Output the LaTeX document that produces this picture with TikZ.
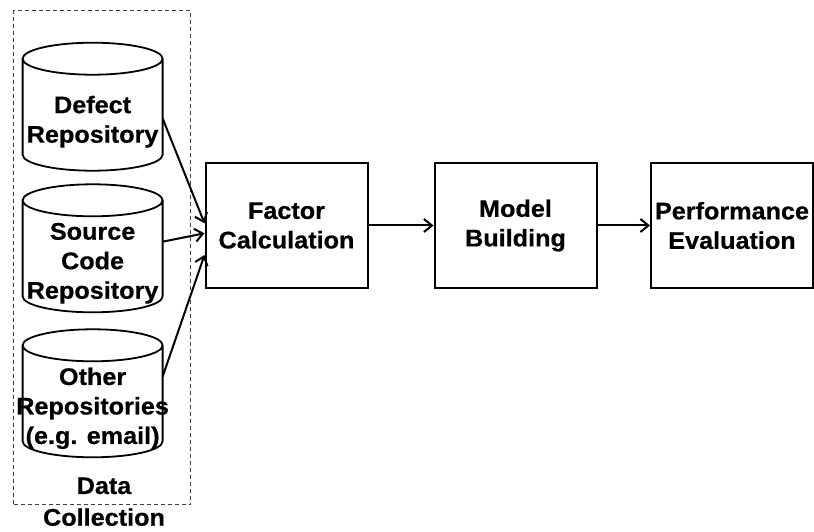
\documentclass[tikz,border=0pt]{standalone}
\usepackage{fontspec}
\setmainfont{Liberation Sans}[FakeStretch=1.05, BoldFeatures={FakeBold=0.6}]
\usetikzlibrary{arrows.meta}

\begin{document}
\begin{tikzpicture}[x=1pt, y=1pt, font=\bfseries\fontsize{24}{29.5}\selectfont,
    repo/.style={minimum width=140pt, align=center, inner sep=0pt},
    stage/.style={draw, line width=2pt, minimum width=162pt, minimum height=125pt, align=center},
    flow/.style={-{Straight Barb[length=8pt,width=13pt]}, line width=2pt}]
            \useasboundingbox (0,0) rectangle (814,531);
            \node[draw, dash pattern=on 4pt off 3pt, gray!50!black, line width=1pt, inner sep=0pt, minimum width=176.7pt, minimum height=494.3pt] (dc) at (102.3,273.2) {};
            \node[align=center, font=\bfseries\fontsize{24}{31.7}\selectfont] (dclabel) at (104,29.3) {Data\\Collection};
            \node[repo] (c1) at (92.6,409.3) {Defect\\Repository};
            \node[repo] (c2) at (92.6,267.7) {Source\\Code\\Repository};
            \node[repo] (c3) at (92.6,122.7) {Other\\Repositories\\(e.g. email)};
            % cylinder outlines round the repositories
            \foreach \c in {c1,c2,c3}
                \draw[line width=1.8pt] ([shift={(-70pt,63pt)}]\c.center) -- ([shift={(-70pt,-33pt)}]\c.center)
                    arc[start angle=180, end angle=360, x radius=70pt, y radius=16pt] -- ([shift={(70pt,63pt)}]\c.center)
                    ([yshift=63pt]\c.center) ellipse[x radius=70pt, y radius=16pt];
            \node[stage] (factor) at (286.5,305.5) {Factor\\Calculation};
            \node[stage] (model) at (515.5,305.5) {Model\\Building};
            \node[stage] (perf) at (732,305.5) {Performance\\Evaluation};
            \draw[flow] ([shift={(70pt,3.4pt)}]c1.center) -- ([yshift=2.2pt]factor.west);
            \draw[flow] ([shift={(70pt,21.6pt)}]c2.center) -- ([yshift=-7.8pt]factor.west);
            \draw[flow] ([shift={(70pt,31.6pt)}]c3.center) -- ([yshift=-29.5pt]factor.west);
            \foreach \a/\b in {factor/model, model/perf}
                \draw[flow] (\a) -- (\b);
        \end{tikzpicture}
\end{document}
